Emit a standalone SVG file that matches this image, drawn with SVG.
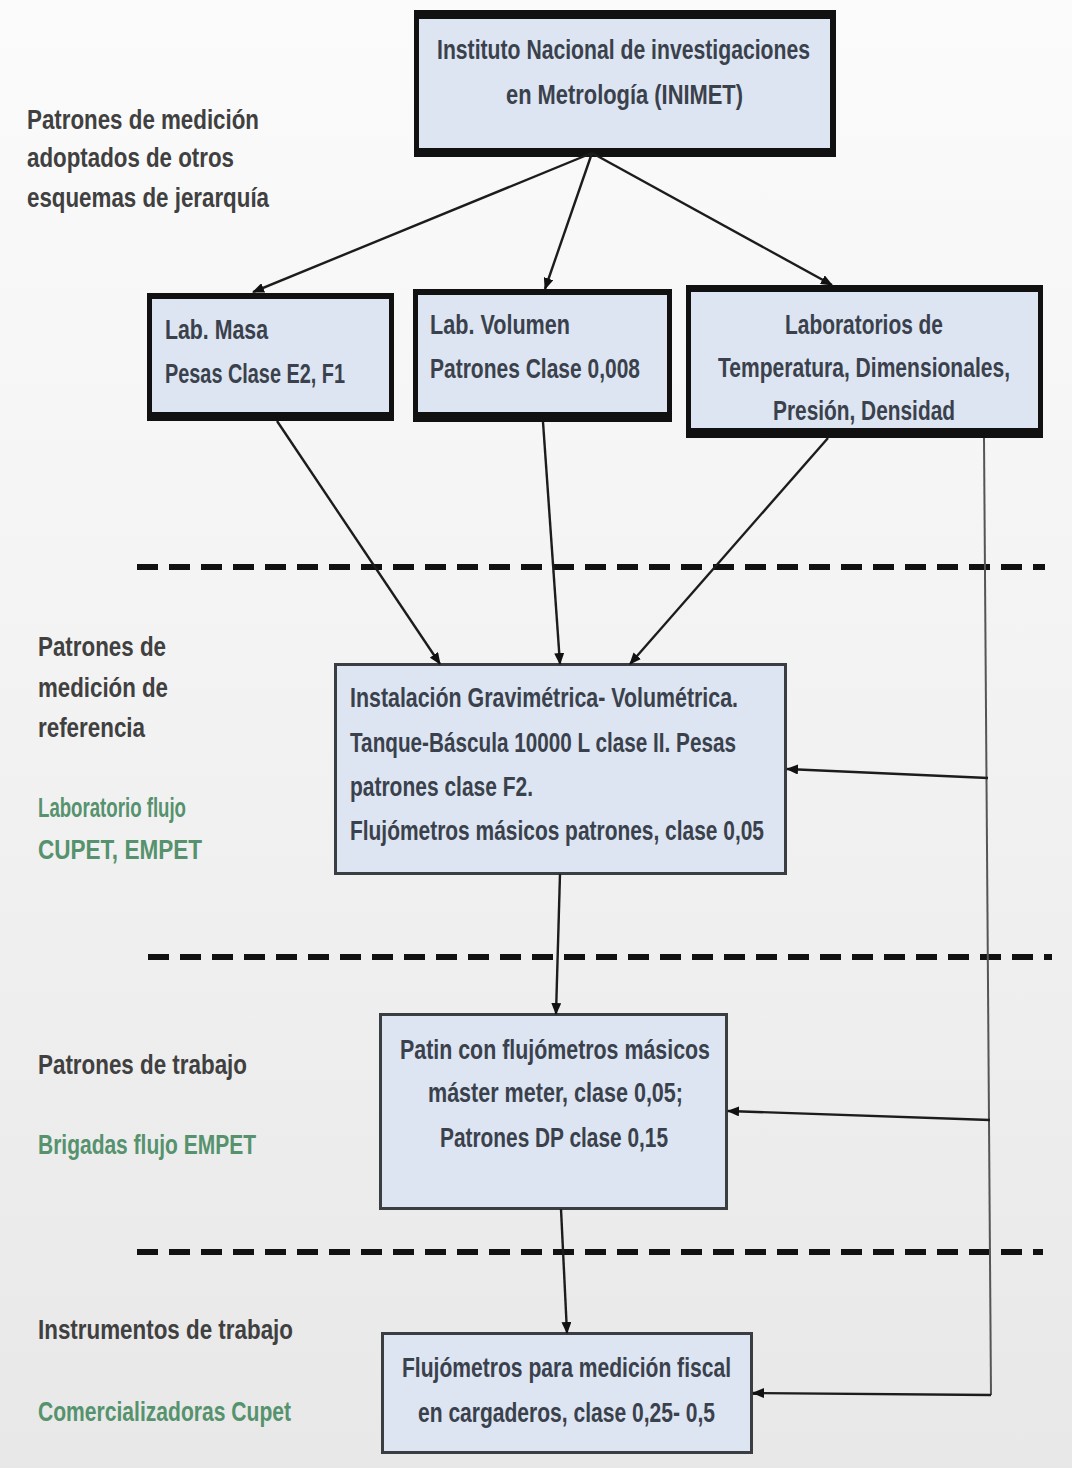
<svg xmlns="http://www.w3.org/2000/svg" width="1072" height="1468" viewBox="0 0 1072 1468">
<defs>
<linearGradient id="bg" x1="0" y1="0" x2="0" y2="1">
<stop offset="0" stop-color="#fbfbfb"/>
<stop offset="0.5" stop-color="#f2f2f2"/>
<stop offset="1" stop-color="#e8e8e8"/>
</linearGradient>
<marker id="ah" markerUnits="userSpaceOnUse" markerWidth="12" markerHeight="10" refX="11" refY="5" orient="auto">
<path d="M0,0 L12,5 L0,10 z" fill="#111"/>
</marker>
</defs>
<style>
.t{font-family:"Liberation Sans",Arial,sans-serif;font-size:27px;font-weight:bold;fill:#3a414c}
.l{font-family:"Liberation Sans",Arial,sans-serif;font-size:27px;font-weight:bold;fill:#404040}
.g{font-family:"Liberation Sans",Arial,sans-serif;font-size:27px;font-weight:bold;fill:#55926d}
.m{text-anchor:middle}
.thick{fill:#111}
.fill{fill:#dce5f1}
.thin{fill:#dce5f1;stroke:#3a3d42;stroke-width:3}
.c{fill:none;stroke:#1c1c1c;stroke-width:2.4}
.cg{fill:none;stroke:#555;stroke-width:2}
.dash{fill:none;stroke:#111;stroke-width:6;stroke-dasharray:21 11}
</style>
<rect x="0" y="0" width="1072" height="1468" fill="url(#bg)"/>

<g id="labels">
<text class="l" x="27" y="129" textLength="232" lengthAdjust="spacingAndGlyphs">Patrones de medición</text>
<text class="l" x="27" y="167" textLength="207" lengthAdjust="spacingAndGlyphs">adoptados de otros</text>
<text class="l" x="27" y="207" textLength="242" lengthAdjust="spacingAndGlyphs">esquemas de jerarquía</text>
<text class="l" x="38" y="656" textLength="128" lengthAdjust="spacingAndGlyphs">Patrones de</text>
<text class="l" x="38" y="697" textLength="130" lengthAdjust="spacingAndGlyphs">medición de</text>
<text class="l" x="38" y="737" textLength="107" lengthAdjust="spacingAndGlyphs">referencia</text>
<text class="g" x="38" y="817" textLength="148" lengthAdjust="spacingAndGlyphs">Laboratorio flujo</text>
<text class="g" x="38" y="859" textLength="164" lengthAdjust="spacingAndGlyphs">CUPET, EMPET</text>
<text class="l" x="38" y="1074" textLength="209" lengthAdjust="spacingAndGlyphs">Patrones de trabajo</text>
<text class="g" x="38" y="1154" textLength="218" lengthAdjust="spacingAndGlyphs">Brigadas flujo EMPET</text>
<text class="l" x="38" y="1339" textLength="255" lengthAdjust="spacingAndGlyphs">Instrumentos de trabajo</text>
<text class="g" x="38" y="1421" textLength="253" lengthAdjust="spacingAndGlyphs">Comercializadoras Cupet</text>
</g>

<g id="dividers">
<line class="dash" x1="137" y1="567" x2="1045" y2="567"/>
<line class="dash" x1="148" y1="957" x2="1052" y2="957"/>
<line class="dash" x1="137" y1="1252" x2="1043" y2="1252"/>
</g>

<g id="inimet">
<rect class="thick" x="414" y="10" width="422" height="147"/>
<rect class="fill" x="419" y="19" width="411" height="129"/>
<text class="t" x="437" y="59" textLength="373" lengthAdjust="spacingAndGlyphs">Instituto Nacional de investigaciones</text>
<text class="t" x="506" y="104" textLength="237" lengthAdjust="spacingAndGlyphs">en Metrología (INIMET)</text>
</g>

<g id="lab-masa">
<rect class="thick" x="147" y="293" width="247" height="128"/>
<rect class="fill" x="152" y="299" width="237" height="113"/>
<text class="t" x="165" y="339" textLength="103" lengthAdjust="spacingAndGlyphs">Lab. Masa</text>
<text class="t" x="165" y="383" textLength="180" lengthAdjust="spacingAndGlyphs">Pesas Clase E2, F1</text>
</g>

<g id="lab-volumen">
<rect class="thick" x="413" y="289" width="259" height="133"/>
<rect class="fill" x="418" y="295" width="249" height="117"/>
<text class="t" x="430" y="334" textLength="140" lengthAdjust="spacingAndGlyphs">Lab. Volumen</text>
<text class="t" x="430" y="378" textLength="210" lengthAdjust="spacingAndGlyphs">Patrones Clase 0,008</text>
</g>

<g id="lab-otros">
<rect class="thick" x="686" y="285" width="357" height="153"/>
<rect class="fill" x="691" y="292" width="347" height="136"/>
<text class="t m" x="864" y="334" textLength="158" lengthAdjust="spacingAndGlyphs">Laboratorios de</text>
<text class="t m" x="864" y="0" transform="translate(0,377) scale(1,1.125)" style="font-size:24px" textLength="292" lengthAdjust="spacingAndGlyphs">Temperatura, Dimensionales,</text>
<text class="t m" x="864" y="420" textLength="182" lengthAdjust="spacingAndGlyphs">Presión, Densidad</text>
</g>

<g id="instalacion">
<rect class="thin" x="335.5" y="664.5" width="450" height="209"/>
<text class="t" x="350" y="707" textLength="388" lengthAdjust="spacingAndGlyphs">Instalación Gravimétrica- Volumétrica.</text>
<text class="t" x="350" y="752" textLength="386" lengthAdjust="spacingAndGlyphs">Tanque-Báscula 10000 L clase II. Pesas</text>
<text class="t" x="350" y="796" textLength="183" lengthAdjust="spacingAndGlyphs">patrones clase F2.</text>
<text class="t" x="350" y="840" textLength="414" lengthAdjust="spacingAndGlyphs">Flujómetros másicos patrones, clase 0,05</text>
</g>

<g id="patin">
<rect class="thin" x="380.5" y="1014.5" width="346" height="194"/>
<text class="t" x="400" y="1059" textLength="310" lengthAdjust="spacingAndGlyphs">Patin con flujómetros  másicos</text>
<text class="t" x="428" y="1102" textLength="255" lengthAdjust="spacingAndGlyphs">máster meter, clase 0,05;</text>
<text class="t" x="440" y="1147" textLength="228" lengthAdjust="spacingAndGlyphs">Patrones DP clase 0,15</text>
</g>

<g id="fiscal">
<rect class="thin" x="382.5" y="1333.5" width="369" height="119"/>
<text class="t" x="402" y="1377" textLength="329" lengthAdjust="spacingAndGlyphs">Flujómetros para medición fiscal</text>
<text class="t" x="418" y="1422" textLength="297" lengthAdjust="spacingAndGlyphs">en cargaderos, clase 0,25- 0,5</text>
</g>

<g id="connectors">
<circle cx="592" cy="153" r="4" fill="#111"/>
<line class="c" x1="592" y1="153" x2="253" y2="292" marker-end="url(#ah)"/>
<line class="c" x1="592" y1="153" x2="545" y2="289" marker-end="url(#ah)"/>
<line class="c" x1="592" y1="153" x2="832" y2="285" marker-end="url(#ah)"/>
<line class="c" x1="277" y1="421" x2="440" y2="664" marker-end="url(#ah)"/>
<line class="c" x1="543" y1="422" x2="560" y2="664" marker-end="url(#ah)"/>
<line class="c" x1="828" y1="438" x2="630" y2="664" marker-end="url(#ah)"/>
<line class="c" x1="560" y1="874" x2="556" y2="1014" marker-end="url(#ah)"/>
<line class="c" x1="561" y1="1209" x2="567" y2="1333" marker-end="url(#ah)"/>
<polyline class="cg" points="984,438 991,1395"/>
<line class="c" x1="988" y1="778" x2="787" y2="769" marker-end="url(#ah)"/>
<line class="c" x1="990" y1="1120" x2="728" y2="1111" marker-end="url(#ah)"/>
<line class="c" x1="991" y1="1395" x2="753" y2="1393" marker-end="url(#ah)"/>
</g>
</svg>
